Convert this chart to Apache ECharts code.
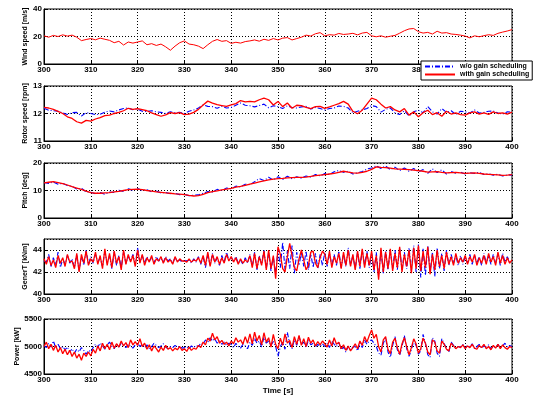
<!DOCTYPE html>
<html>
<head>
<meta charset="utf-8">
<script src="https://cdn.jsdelivr.net/npm/echarts@6/dist/echarts.min.js"></script>
<style>
  html, body { margin: 0; padding: 0; background: #fff; }
  #main { width: 540px; height: 399px; }
</style>
</head>
<body>
<div id="main"></div>
<script>
// time axis: 300..400 s
const tStart = 300;

// 1 s samples
const windSpeed = [20.5,19.5,20.8,20,21.2,20.3,21,19.5,17,17.8,
  18.5,17.6,18.8,18,17.2,15.5,16.5,13.8,16,15.2,
  16,16.8,14,14.8,13.5,14.5,12.5,10,13,15.5,
  16.8,14.5,14,13,11.2,14,16.5,17.8,16.5,17,
  15,15.8,15.2,16.3,16.8,17.5,16.6,18,17.2,18.5,
  17.5,18.8,19.2,17.5,18.5,19.5,21,20.3,22,22.8,
  20.5,21.3,21,22.2,21.5,21.8,22.3,21.2,22.5,23,
  20.5,19.8,20.5,19.5,20.2,20.8,22.4,24.2,25.5,25.8,
  23.5,22.5,23,21.8,23.8,22.5,22.8,21.8,21.5,21,
  20.3,19,20.5,19.8,20.6,21.3,20.8,22.3,23.2,24,25];

const rotorWith = [12.22,12.2,12.15,12.08,12.0,11.88,11.82,11.7,11.65,11.75,
  11.72,11.8,11.85,11.92,11.94,12.0,12.04,12.1,12.19,12.15,
  12.18,12.14,12.1,12.02,11.96,11.9,11.95,12.03,12.0,12.03,
  11.96,11.98,12.04,12.15,12.31,12.45,12.38,12.32,12.29,12.26,
  12.31,12.36,12.47,12.42,12.44,12.42,12.5,12.56,12.5,12.31,
  12.44,12.25,12.38,12.19,12.3,12.29,12.22,12.18,12.25,12.26,
  12.19,12.24,12.3,12.36,12.44,12.34,12.08,11.99,12.12,12.34,
  12.56,12.5,12.34,12.2,12.25,12.13,12.06,12.18,11.94,12.06,
  11.88,12.03,12.12,11.96,12.03,11.9,12.08,11.98,12.02,11.96,
  11.94,12.02,12.06,11.98,12.02,11.97,12.06,12.0,12.02,11.98,12.05];

const rotorWo = [12.19,12.12,12.1,12.08,12.02,11.96,12.03,12.04,11.91,12.03,
  12.0,11.96,11.97,12.05,12.09,12.06,12.13,12.18,12.2,12.14,
  12.16,12.08,12.07,12.1,12.06,12.04,12.0,12.06,12.03,12.04,
  12.0,12.08,12.13,12.2,12.31,12.26,12.25,12.19,12.26,12.2,
  12.22,12.3,12.38,12.3,12.28,12.24,12.29,12.34,12.21,12.28,
  12.25,12.18,12.28,12.22,12.2,12.24,12.26,12.16,12.22,12.18,
  12.13,12.18,12.2,12.27,12.26,12.2,12.03,12.08,12.13,12.18,
  12.29,12.25,12.05,12.15,12.2,12.02,11.96,12.1,11.91,12.06,
  12.12,12.03,12.25,12.06,11.98,12.18,12.04,12.1,11.96,12.08,
  12.06,12.02,12.13,12.02,12.04,12.08,12.09,12.02,11.98,12.06,12.05];

const pitchWith = [12.8,13.0,13.2,12.9,12.5,12.0,11.4,10.9,10.4,9.8,
  9.2,9.0,9.0,9.1,9.2,9.5,9.7,10.0,10.3,10.4,
  10.5,10.3,10.0,9.8,9.5,9.3,9.1,9.0,8.8,8.7,
  8.5,8.2,8.0,8.1,8.6,9.2,9.6,9.9,10.2,10.5,
  10.8,11.2,11.5,11.9,12.3,12.7,13.1,13.5,13.9,14.1,
  14.3,14.4,14.6,14.7,14.8,14.8,14.9,15.1,15.4,15.6,
  15.8,16.0,16.2,16.6,17.0,16.7,16.4,16.3,16.6,17.0,
  17.7,18.6,18.4,18.3,18.1,17.9,17.8,17.7,17.6,17.4,
  17.2,17.0,16.7,16.8,16.9,16.6,16.4,16.5,16.6,16.4,
  16.2,16.3,16.4,16.2,16.0,15.9,15.8,15.7,15.5,15.6,15.8];

const pitchWo = [12.9,12.6,13.1,12.3,12.6,11.8,11.5,10.5,10.8,9.5,
  9.4,8.8,9.3,8.6,9.4,9.3,10.1,9.6,10.6,10.1,
  10.7,10.0,10.3,9.5,9.8,9.1,9.3,8.8,9.0,8.5,
  8.6,8.1,8.3,8.4,9.0,9.6,9.4,10.4,10.0,10.9,
  10.6,11.6,11.3,12.3,12.1,13.2,14.3,13.6,14.8,13.8,
  15.0,14.0,15.2,14.3,15.0,14.5,15.3,14.8,15.8,15.3,
  16.2,15.8,16.8,17.3,16.6,17.0,16.0,16.4,16.9,17.8,
  18.2,19.0,18.0,18.9,17.6,18.5,17.2,18.2,17.0,18.0,
  16.8,17.6,16.2,17.9,16.5,17.5,16.0,16.9,16.3,16.7,
  16.0,16.5,16.2,16.6,15.8,16.1,15.6,15.9,15.3,15.7,15.6];

// 0.5 s samples
const genTWith = [43.2,42.7,43.4,42.6,43.1,42.4,43.5,42.8,43.3,42.5,43.6,42.9,43.0,42.3,43.7,42.0,43.6,42.8,43.9,42.6,
  43.2,42.9,43.8,42.7,43.5,42.3,44.1,42.6,43.7,42.4,43.9,42.8,43.4,42.2,44.0,42.7,43.6,42.9,43.5,42.5,
  44.0,42.8,43.6,42.6,43.3,42.9,43.5,42.7,43.2,43.0,43.4,42.8,43.3,42.9,43.1,42.7,43.4,42.9,43.2,43.0,
  43.0,42.9,43.2,42.9,43.1,43.0,43.3,42.8,43.5,42.6,43.8,42.5,43.6,42.9,43.4,42.7,43.3,42.8,43.6,43.0,
  43.4,42.9,43.3,42.7,43.2,42.8,43.1,42.9,43.5,42.4,43.7,42.3,43.4,42.6,43.9,42.2,44.0,42.3,43.5,41.4,
  44.3,43.6,42.3,42.0,43.4,44.6,43.5,42.4,42.1,43.2,44.0,43.1,42.2,42.6,43.8,43.9,42.8,42.4,43.3,43.9,
  43.6,42.7,43.9,42.4,43.4,42.8,43.7,42.3,43.8,42.6,44.0,42.5,43.6,42.2,43.9,42.5,44.1,42.4,43.7,42.6,
  43.9,42.2,43.5,41.3,44.2,42.0,43.8,42.3,44.1,42.1,43.7,42.4,44.3,42.0,43.6,42.5,44.0,41.9,44.2,42.3,
  44.4,42.1,43.9,42.4,44.3,41.8,43.6,42.2,44.0,42.5,43.5,42.3,43.8,42.7,43.4,42.6,43.7,42.8,43.3,42.9,
  43.5,42.7,43.4,42.9,43.6,42.6,43.3,42.8,43.5,42.7,43.7,42.9,43.4,42.6,43.8,42.8,43.5,42.7,43.3,42.8,
  43.1];

const genTWo = [43.0,42.9,43.6,42.5,43.3,42.6,43.8,42.4,43.2,42.7,43.5,42.8,43.2,42.4,43.6,42.1,43.4,42.6,44.0,42.7,
  43.4,42.8,43.6,42.9,43.3,42.5,43.9,42.8,43.5,42.3,43.8,42.6,43.5,42.4,43.8,42.8,43.4,43.0,43.6,42.7,
  44.2,42.9,43.5,42.8,43.4,43.0,43.3,42.8,43.4,43.0,43.2,42.9,43.4,43.0,43.2,42.8,43.3,43.0,43.1,42.9,
  43.1,43.0,43.1,42.8,43.2,42.9,43.4,42.7,43.4,42.4,43.6,42.6,43.7,42.8,43.3,42.6,43.5,42.9,43.8,43.1,
  43.3,43.0,43.4,42.8,43.1,42.7,43.3,42.8,43.6,42.5,43.8,42.2,43.5,42.7,44.0,42.3,43.8,42.1,43.4,41.8,
  44.1,42.4,44.7,42.2,43.9,42.3,44.4,41.9,43.8,42.6,43.8,42.5,43.9,42.2,43.7,42.4,43.7,42.3,43.6,42.6,
  43.8,42.5,43.7,42.6,43.6,42.6,43.9,42.4,43.6,42.5,44.2,42.6,43.5,42.3,43.8,42.3,44.0,42.6,43.9,42.4,
  43.7,42.0,43.8,41.6,44.0,41.9,43.9,42.2,43.9,42.3,44.0,42.2,44.1,42.2,43.8,42.3,44.2,42.1,44.4,42.0,
  44.5,41.5,44.1,41.7,44.4,42.0,43.8,41.6,44.2,42.3,43.7,42.1,44.0,42.6,43.6,42.8,43.5,42.6,43.5,42.7,
  43.4,42.8,43.6,42.7,43.5,42.8,43.4,42.6,43.7,42.8,43.5,42.7,43.6,42.8,43.6,42.6,43.7,42.9,43.4,42.9,
  43.0];

const powerWith = [5000,5080,4960,5040,4930,5020,4900,4980,4870,4950,4850,4930,4820,4900,4790,4860,4750,4880,4820,4900,
  4830,4950,4880,5010,4920,5060,4960,5040,4940,5080,4970,5050,4990,5100,5010,5070,4980,5120,5030,5090,
  5020,5140,5000,5060,4950,5030,4920,5010,4960,4900,4990,4930,5020,4950,4980,4920,4970,4940,5000,4930,
  4960,4910,4990,4930,4970,4950,5020,4980,5080,5030,5150,5100,5240,5120,5180,5060,5110,5040,5080,5010,
  5100,5050,5160,5080,5120,5040,5180,5060,5230,5050,5260,5100,5200,5030,5250,5080,5160,4990,5220,5040,
  4960,5150,5020,5230,5060,5110,4980,5180,5040,5200,5020,5140,5000,5170,5060,5120,5010,5090,5030,5100,
  5050,4990,5120,5010,5160,5040,5080,4960,5030,4930,5010,4920,4980,5050,4960,5100,5020,5180,5080,5200,
  5300,5150,5220,5000,4900,5120,5180,4950,4870,5080,5150,4980,4860,5050,5160,5000,4850,4980,5140,5050,
  4880,4960,5150,5060,4900,4850,5120,5080,4920,4880,5100,5040,4950,4920,5060,5010,4960,5000,4980,5030,
  4960,5010,4980,5040,4970,4950,5020,4980,5040,4960,5000,4940,5020,4970,5040,4960,5030,4980,4950,5000,
  4980];

const powerWo = [5020,4980,5060,4990,5100,4980,5040,4960,5000,4940,4990,4900,4960,4880,4950,4900,4980,4930,4860,4930,
  4900,4980,5040,4990,5060,5010,4950,5030,5080,5000,4960,5050,4990,5060,5020,4980,5040,5000,4970,5030,
  5060,5000,5040,4980,5030,4960,5000,5060,5020,4980,5010,5050,4990,4960,5000,4980,5020,4990,5000,4970,
  4980,5000,4960,5010,4980,5020,5000,5060,5040,5120,5080,5160,5100,5140,5060,5100,5040,5080,5020,5060,
  5040,4980,5060,5000,4970,5040,5010,4960,5080,5020,5150,5060,5100,4990,5170,5060,5100,5020,5090,5000,
  4820,5000,5080,4950,5260,5040,4960,5120,5020,5180,5040,5080,4980,5120,5030,5060,4990,5040,5000,5050,
  5000,5060,4980,5100,5040,5000,5070,4940,4990,4900,5000,4940,4990,5000,4920,5060,4980,5120,5040,5100,
  5120,5060,5000,4880,4840,5060,5160,4900,4800,5020,5180,4940,4840,5000,5200,4960,4820,4940,5100,5020,
  4860,4920,5220,5060,4850,4800,5160,5100,4880,4820,5140,5060,4960,4900,5080,5020,4960,5000,4990,5040,
  4970,5020,4990,5050,4960,5000,5040,4970,5010,4990,5030,4960,5000,4980,5040,4970,5010,5060,4990,5020,
  5000];

const panelNames = ['Wind speed [m/s]', 'Rotor speed [rpm]', 'Pitch [deg]', 'GenerT [kNm]', 'Power [kW]'];
const yRanges = [[0, 40, 20], [11, 13, 1], [0, 20, 10], [40, 45, 2], [4500, 5500, 500]];
const gridTops = [9, 86, 163, 239, 319];

function pairs(vals, step) {
  return vals.map((v, i) => [tStart + i * step, v]);
}

const chart = echarts.init(document.getElementById('main'));
const font = 'Liberation Sans, Arial, sans-serif';
const dotted = { color: '#000', width: 1, type: [1, 2] };

const grids = [], xAxes = [], yAxes = [];
gridTops.forEach((top, i) => {
  grids.push({ left: 44, width: 468, top: top, height: 55, show: true, borderColor: '#000', borderWidth: 1, backgroundColor: '#fff' });
  xAxes.push({
    gridIndex: i, type: 'value', min: 300, max: 400, interval: 10,
    axisLine: { lineStyle: { color: '#000' } },
    axisTick: { inside: true, length: 3, lineStyle: { color: '#000' } },
    axisLabel: { color: '#000', fontSize: 8, fontWeight: 'bold', fontFamily: font, margin: 2 },
    splitLine: { show: true, lineStyle: dotted },
    name: i === 4 ? 'Time [s]' : '', nameLocation: 'middle', nameGap: 13,
    nameTextStyle: { color: '#000', fontSize: 8, fontWeight: 'bold', fontFamily: font }
  });
  const r = yRanges[i];
  yAxes.push({
    gridIndex: i, type: 'value', min: r[0], max: r[1], interval: r[2],
    axisLine: { show: true, lineStyle: { color: '#000' } },
    axisTick: { show: true, inside: true, length: 3, lineStyle: { color: '#000' } },
    axisLabel: { color: '#000', fontSize: 8, fontWeight: 'bold', fontFamily: font, margin: 2,
      showMaxLabel: i !== 3, formatter: v => String(v) },
    splitLine: { show: true, lineStyle: dotted },
    name: panelNames[i], nameLocation: 'middle', nameGap: i === 4 ? 23 : 15, nameRotate: 90,
    nameMoveOverlap: false,
    nameTextStyle: { color: '#000', fontSize: 7, fontWeight: 'bold', fontFamily: font }
  });
});

const blueStyle = { color: '#0000ff', width: 1.1, type: [5, 2, 1, 2] };
const redStyle = { color: '#ff0000', width: 1.3 };
const windStyle = { color: '#ff0000', width: 1 };
function line(name, idx, data, style) {
  return {
    name: name, type: 'line', xAxisIndex: idx, yAxisIndex: idx, data: data,
    showSymbol: false, symbol: 'none', lineStyle: style, itemStyle: { color: style.color },
    animation: false
  };
}
const wo = 'w/o gain scheduling', wi = 'with gain scheduling';

chart.setOption({
  backgroundColor: '#fff',
  animation: false,
  grid: grids,
  xAxis: xAxes,
  yAxis: yAxes,
  legend: {
    data: [wo, wi], orient: 'vertical', left: 421, top: 61,
    backgroundColor: '#fff', borderColor: '#000', borderWidth: 1,
    padding: [2, 3, 2, 3], itemGap: 1, itemWidth: 30, itemHeight: 8,
    itemStyle: { opacity: 0 },
    textStyle: { color: '#000', fontSize: 7, fontWeight: 'bold', fontFamily: font },
    z: 10
  },
  series: [
    line(wi, 0, pairs(windSpeed, 1), windStyle),
    line(wo, 1, pairs(rotorWo, 1), blueStyle),
    line(wi, 1, pairs(rotorWith, 1), redStyle),
    line(wo, 2, pairs(pitchWo, 1), blueStyle),
    line(wi, 2, pairs(pitchWith, 1), redStyle),
    line(wo, 3, pairs(genTWo, 0.5), blueStyle),
    line(wi, 3, pairs(genTWith, 0.5), redStyle),
    line(wo, 4, pairs(powerWo, 0.5), blueStyle),
    line(wi, 4, pairs(powerWith, 0.5), redStyle)
  ]
});
</script>
</body>
</html>
